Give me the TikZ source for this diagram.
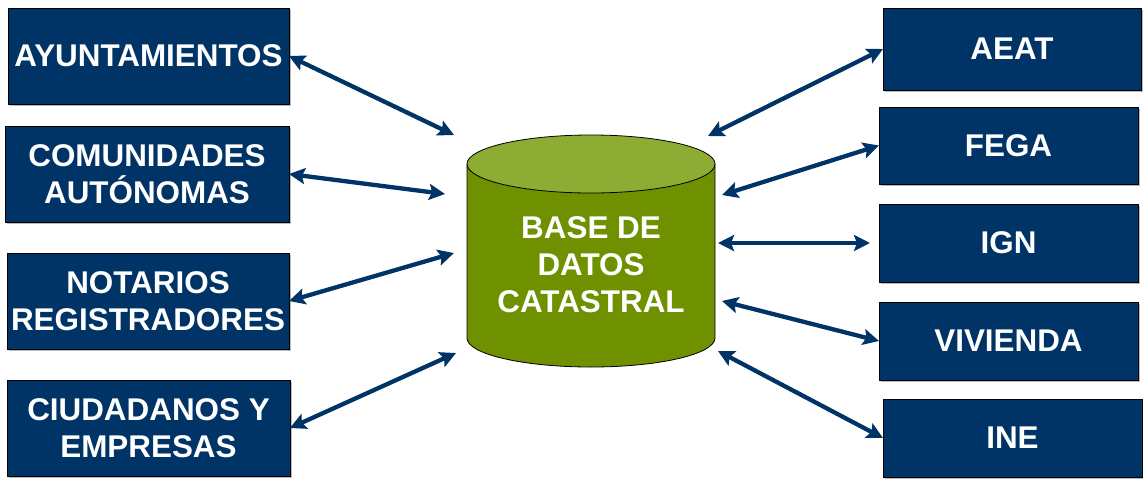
\documentclass[tikz,border=0pt]{standalone}
\usepackage{fontspec}
\setmainfont{Liberation Sans}
\usetikzlibrary{arrows.meta,shadows}
\definecolor{navy}{RGB}{0,51,102}
\definecolor{cylbody}{RGB}{111,145,0}
\definecolor{cyltop}{RGB}{141,172,52}
\begin{document}
\begin{tikzpicture}[x=1pt,y=-1pt,
  box/.style={draw=black, line width=0.8pt, fill=navy, text=white,
    font=\bfseries\fontsize{31.4}{37}\selectfont, align=center,
    inner sep=0pt, outer sep=0pt,
    drop shadow={shadow xshift=1.5pt, shadow yshift=-1.5pt, fill=gray!55, opacity=1}},
  link/.style={draw=navy, line width=4.3pt,
    arrows={Stealth[length=16pt,width=16pt,inset=3pt]-Stealth[length=16pt,width=16pt,inset=3pt]}},
  dbtext/.style={text=white, font=\bfseries\fontsize{31.4}{37}\selectfont, align=center}]
\useasboundingbox (0,0) rectangle (1143,483);

% left boxes
\node[box, minimum width=281pt, minimum height=96pt] (ayu) at (148.5,56) {AYUNTAMIENTOS};
\node[box, minimum width=284pt, minimum height=96pt] (com) at (147,174) {COMUNIDADES\\AUTÓNOMAS};
\node[box, minimum width=282pt, minimum height=96pt] (not) at (148,301) {NOTARIOS\\REGISTRADORES};
\node[box, minimum width=283pt, minimum height=96pt] (ciu) at (148.5,428) {CIUDADANOS Y\\EMPRESAS};

% right boxes
\node[box, minimum width=258pt, minimum height=82pt] (aeat) at (1012,49) {AEAT};
\node[box, minimum width=259pt, minimum height=77pt] (fega) at (1008.5,145.5) {FEGA};
\node[box, minimum width=259pt, minimum height=78pt] (ign) at (1008.5,243) {IGN};
\node[box, minimum width=259pt, minimum height=78pt] (viv) at (1008.5,341) {VIVIENDA};
\node[box, minimum width=259pt, minimum height=78pt] (ine) at (1012.5,438) {INE};

% cylinder
\fill[cylbody] (467,164) -- (467,338)
  arc[start angle=180, end angle=360, x radius=124pt, y radius=29pt] -- (715,164) -- cycle;
\draw[black, line width=0.8pt] (467,164) -- (467,338)
  arc[start angle=180, end angle=360, x radius=124pt, y radius=29pt] -- (715,164);
\draw[black, line width=0.8pt, fill=cyltop] (591,164) ellipse [x radius=124pt, y radius=29pt];
\node[dbtext] (db) at (591,265) {BASE DE\\DATOS\\CATASTRAL};

% connector ends at the cylinder
\coordinate (c1) at (454,135);
\coordinate (c2) at (445,194);
\coordinate (c3) at (454,253);
\coordinate (c4) at (456,353);
\coordinate (c5) at (708,136);
\coordinate (c6) at (722,195);
\coordinate (c7) at (718,243);
\coordinate (c8) at (722,301);
\coordinate (c9) at (718,351);
\coordinate (ignend) at (870,243);

% connectors
\draw[link] (ayu.east) -- (c1);
\draw[link] (com.east) -- (c2);
\draw[link] (not.east) -- (c3);
\draw[link] (ciu.east) -- (c4);
\draw[link] (c5) -- (aeat.west);
\draw[link] (c6) -- (fega.west);
\draw[link] (c7) -- (ignend);
\draw[link] (c8) -- (viv.west);
\draw[link] (c9) -- (ine.west);
\end{tikzpicture}
\end{document}
